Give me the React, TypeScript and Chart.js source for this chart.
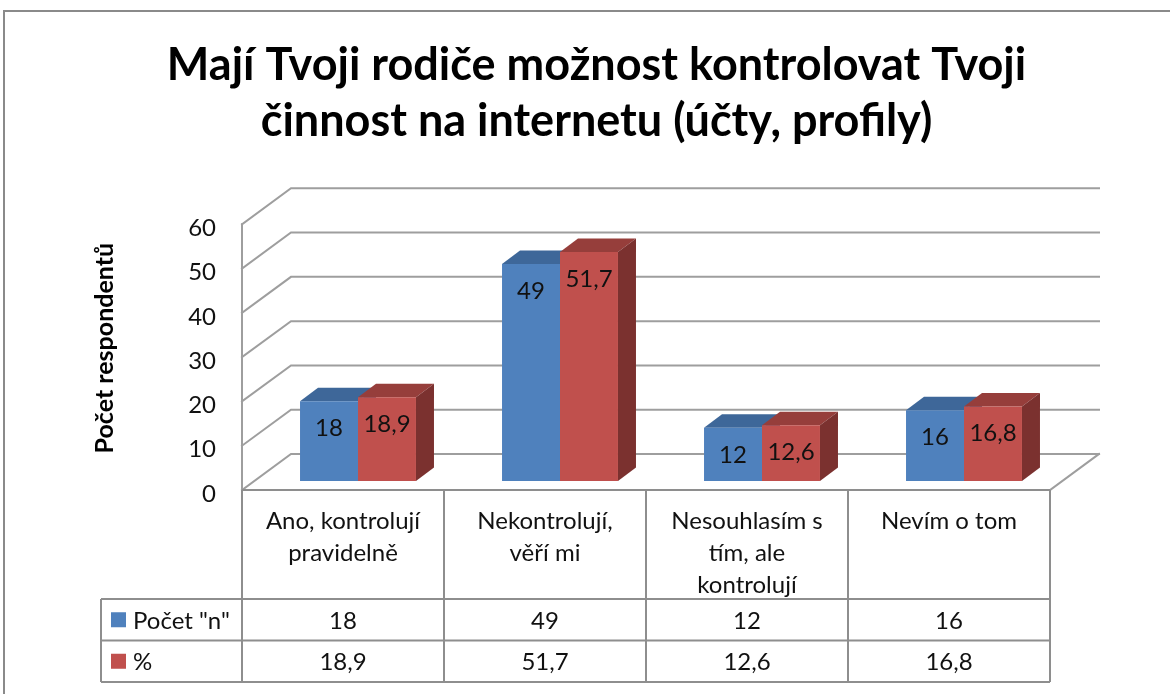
import React, { useEffect, useRef } from 'react';
import { Chart, registerables } from 'chart.js';

Chart.register(...registerables);

// ---- data ----
const categories: string[][] = [
  ['Ano, kontrolují', 'pravidelně'],
  ['Nekontrolují,', 'věří mi'],
  ['Nesouhlasím s', 'tím, ale', 'kontrolují'],
  ['Nevím o tom'],
];
const seriesNames = ['Počet "n"', '%'];
const countValues = [18, 49, 12, 16];
const percentValues = [18.9, 51.7, 12.6, 16.8];
const yTickValues = [0, 10, 20, 30, 40, 50, 60];
const titleLines = ['Mají Tvoji rodiče možnost kontrolovat Tvoji', 'činnost na internetu (účty, profily)'];
const yAxisTitle = 'Počet respondentů';

// ---- style ----
const FONT = "Lato, 'Open Sans', sans-serif";
const FRONT_COLORS = ['#4F81BD', '#C0504D'];
const TOP_COLORS = ['#3E6799', '#963E3B'];
const SIDE_COLORS = ['#365B87', '#7B312F'];
const GRID_COLOR = '#9E9E9E';
const TABLE_COLOR = '#8E8E8E';
const DEPTH = { dx: 49, dy: -36 };        // front plane -> back wall
const FRONT_OFF = { x: -15, y: 9 };       // bar plane -> front plane
const BAR_DEPTH = { dx: 18, dy: -13.5 };  // bar thickness

const fmt = (v: number) => String(v).replace('.', ',');

const scenePlugin = {
  id: 'scene3d',
  beforeDraw(chart: any) {
    const ctx = chart.ctx;
    ctx.save();
    ctx.fillStyle = '#fff';
    ctx.fillRect(0, 0, chart.width, chart.height);
    ctx.strokeStyle = '#8A8A8A';
    ctx.lineWidth = 2;
    ctx.strokeRect(4, 11, chart.width + 50, chart.height + 50);
    ctx.restore();
  },
  beforeDatasetsDraw(chart: any) {
    const ctx = chart.ctx;
    const y = chart.scales.y;
    const { left, right } = chart.chartArea;
    const fx = FRONT_OFF.x, fy = FRONT_OFF.y;
    const bx = fx + DEPTH.dx, by = fy + DEPTH.dy;
    ctx.save();
    ctx.strokeStyle = GRID_COLOR;
    ctx.lineWidth = 2;
    ctx.lineCap = 'square';
    for (const v of yTickValues) {
      const py = y.getPixelForValue(v);
      ctx.beginPath();
      ctx.moveTo(left + fx, py + fy);
      ctx.lineTo(left + bx, py + by);
      ctx.lineTo(right + bx, py + by);
      ctx.stroke();
    }
    const y0 = y.getPixelForValue(0);
    const yMax = y.getPixelForValue(yTickValues[yTickValues.length - 1]);
    ctx.beginPath();
    ctx.moveTo(left + fx, yMax + fy);
    ctx.lineTo(left + fx, y0 + fy);
    ctx.moveTo(right + fx, y0 + fy);
    ctx.lineTo(right + bx, y0 + by);
    ctx.stroke();

    const ddx = BAR_DEPTH.dx, ddy = BAR_DEPTH.dy;
    chart.data.datasets.forEach((_: any, di: number) => {
      const meta = chart.getDatasetMeta(di);
      meta.data.forEach((el: any) => {
        const p = el.getProps(['x', 'y', 'base', 'width'], true);
        const l = p.x - p.width / 2, r = p.x + p.width / 2;
        ctx.fillStyle = TOP_COLORS[di];
        ctx.beginPath();
        ctx.moveTo(l, p.y);
        ctx.lineTo(l + ddx, p.y + ddy);
        ctx.lineTo(r + ddx, p.y + ddy);
        ctx.lineTo(r, p.y);
        ctx.closePath();
        ctx.fill();
        ctx.fillStyle = SIDE_COLORS[di];
        ctx.beginPath();
        ctx.moveTo(r, p.y);
        ctx.lineTo(r + ddx, p.y + ddy);
        ctx.lineTo(r + ddx, p.base + ddy);
        ctx.lineTo(r, p.base);
        ctx.closePath();
        ctx.fill();
      });
    });
    ctx.restore();
  },
  afterDatasetsDraw(chart: any) {
    const ctx = chart.ctx;
    ctx.save();
    ctx.font = `24px ${FONT}`;
    ctx.fillStyle = '#111';
    ctx.textAlign = 'center';
    ctx.textBaseline = 'middle';
    chart.data.datasets.forEach((ds: any, di: number) => {
      const meta = chart.getDatasetMeta(di);
      meta.data.forEach((el: any, i: number) => {
        const p = el.getProps(['x', 'y'], true);
        ctx.fillText(fmt(ds.data[i]), p.x, p.y + 27);
      });
    });
    ctx.restore();
  },
  afterDraw(chart: any) {
    const ctx = chart.ctx;
    const xs = chart.scales.x;
    const y = chart.scales.y;
    const { left, right } = chart.chartArea;
    const fx = FRONT_OFF.x, fy = FRONT_OFF.y;
    const x0 = left + fx, x4 = right + fx;
    const top = y.getPixelForValue(0) + fy;
    const headerBottom = top + 109;
    const rowH = 41.5;
    const bottom = headerBottom + rowH * 2;
    const legendLeft = 101;
    const n = categories.length;
    const colW = (x4 - x0) / n;
    ctx.save();
    ctx.strokeStyle = TABLE_COLOR;
    ctx.lineWidth = 2;
    ctx.beginPath();
    ctx.moveTo(x0, top);
    ctx.lineTo(x4, top);
    for (let r = 0; r <= 2; r++) {
      const yy = headerBottom + r * rowH;
      ctx.moveTo(legendLeft, yy);
      ctx.lineTo(x4, yy);
    }
    ctx.moveTo(legendLeft, headerBottom);
    ctx.lineTo(legendLeft, bottom);
    for (let i = 0; i <= n; i++) {
      ctx.moveTo(x0 + i * colW, top);
      ctx.lineTo(x0 + i * colW, bottom);
    }
    ctx.stroke();

    ctx.font = `24px ${FONT}`;
    ctx.fillStyle = '#111';
    ctx.textBaseline = 'middle';
    chart.data.datasets.forEach((ds: any, di: number) => {
      const cy = headerBottom + rowH * di + rowH / 2 + 1.5;
      ctx.textAlign = 'center';
      ds.data.forEach((v: number, i: number) => {
        ctx.fillText(fmt(v), xs.getPixelForValue(i) + fx, cy);
      });
      ctx.fillStyle = FRONT_COLORS[di];
      ctx.fillRect(legendLeft + 10, cy - 9, 15, 15);
      ctx.fillStyle = '#111';
      ctx.textAlign = 'left';
      ctx.fillText(ds.label, legendLeft + 32, cy);
    });
    ctx.restore();
  },
};

export default function App() {
  const canvasRef = useRef<HTMLCanvasElement | null>(null);

  useEffect(() => {
    if (!canvasRef.current) return;
    const chart = new Chart(canvasRef.current, {
      type: 'bar',
      data: {
        labels: categories,
        datasets: [
          { label: seriesNames[0], data: countValues, backgroundColor: FRONT_COLORS[0], borderWidth: 0, barPercentage: 1, categoryPercentage: 0.574 },
          { label: seriesNames[1], data: percentValues, backgroundColor: FRONT_COLORS[1], borderWidth: 0, barPercentage: 1, categoryPercentage: 0.574 },
        ],
      },
      options: {
        responsive: false,
        animation: false,
        devicePixelRatio: 1,
        layout: { padding: { left: 128, right: 105, top: 10, bottom: 0 } },
        plugins: {
          legend: { display: false },
          tooltip: { enabled: false },
          title: {
            display: true,
            text: titleLines,
            color: '#000',
            font: { family: FONT, size: 45, weight: 'bold', lineHeight: 1.25 },
            padding: { top: 27, bottom: 65.75 },
          },
        },
        scales: {
          x: {
            grid: { display: false, drawTicks: false },
            border: { display: false },
            ticks: {
              color: '#111',
              font: { family: FONT, size: 24, lineHeight: 1.333 },
              padding: 24,
              labelOffset: FRONT_OFF.x,
              maxRotation: 0,
              minRotation: 0,
              autoSkip: false,
            },
            afterFit: (scale: any) => { scale.height = 213; },
          },
          y: {
            min: yTickValues[0],
            max: yTickValues[yTickValues.length - 1],
            grid: { display: false, drawTicks: false },
            border: { display: false },
            ticks: {
              stepSize: 10,
              color: '#111',
              font: { family: FONT, size: 24 },
              padding: 41,
              labelOffset: 13,
            },
            title: {
              display: true,
              text: yAxisTitle,
              color: '#000',
              font: { family: FONT, size: 25, weight: 'bold', lineHeight: 1.2 },
              padding: { top: -38, bottom: 0 },
            },
            afterFit: (scale: any) => { scale.width = 129; },
          },
        },
      },
      plugins: [scenePlugin],
    } as any);
    return () => chart.destroy();
  }, []);

  return (
    <div style={{ position: 'fixed', left: 0, top: 0, width: 1170, height: 694, background: '#fff' }}>
      <canvas ref={canvasRef} width={1170} height={694} />
    </div>
  );
}
